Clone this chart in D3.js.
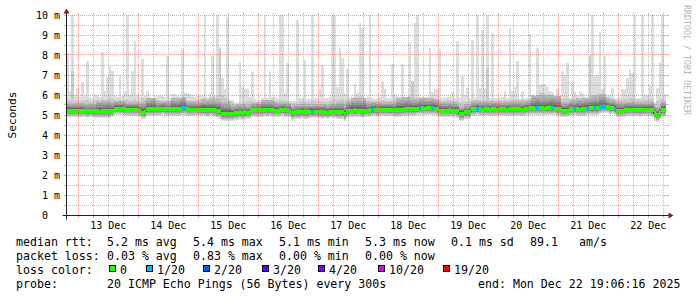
<!DOCTYPE html>
<html>
<head>
<meta charset="utf-8">
<title>smokeping</title>
<script src="https://cdn.jsdelivr.net/npm/d3@7/dist/d3.min.js"></script>
<style>
    body { margin: 0; background: #fff; }
    svg { display: block; }
    text { font-family: "DejaVu Sans Mono", monospace; }
</style>
</head>
<body>
<svg id="chart" width="697" height="297"></svg>
<script>
// 10 days, one bucket per hour (12 x 300s steps)
const startTime = new Date(Date.UTC(2025, 11, 12, 19, 6, 16))
const endTime = new Date(Date.UTC(2025, 11, 22, 19, 6, 16))

// median rtt per bucket (ms)
const rttMedian = [
    5.22, 5.2, 5.2, 5.21, 5.2, 5.2, 5.22, 5.2, 5.19, 5.2,
    5.2, 5.18, 5.18, 5.17, 5.18, 5.18, 5.2, 5.2, 5.22, 5.3,
    5.3, 5.31, 5.3, 5.28, 5.25, 5.25, 5.26, 5.25, 5.25, 5.22,
    5.12, 5.13, 5.28, 5.28, 5.3, 5.3, 5.28, 5.28, 5.3, 5.29,
    5.28, 5.28, 5.3, 5.29, 5.28, 5.3, 5.35, 5.35, 5.28, 5.27,
    5.26, 5.26, 5.27, 5.25, 5.26, 5.26, 5.25, 5.26, 5.26, 5.25,
    5.2, 5.18, 5.07, 5.05, 5.06, 5.05, 5.07, 5.08, 5.12, 5.13,
    5.12, 5.13, 5.12, 5.14, 5.23, 5.24, 5.25, 5.24, 5.24, 5.25,
    5.24, 5.25, 5.24, 5.2, 5.22, 5.24, 5.25, 5.24, 5.23, 5.22,
    5.08, 5.14, 5.15, 5.15, 5.16, 5.15, 5.14, 5.15, 5.15, 5.16,
    5.15, 5.15, 5.14, 5.15, 5.1, 5.15, 5.16, 5.15, 5.14, 5.15,
    5.14, 5.03, 5.2, 5.22, 5.22, 5.23, 5.22, 5.22, 5.21, 5.22,
    5.22, 5.23, 5.25, 5.25, 5.24, 5.25, 5.25, 5.26, 5.25, 5.25,
    5.25, 5.24, 5.25, 5.25, 5.26, 5.28, 5.28, 5.29, 5.28, 5.28,
    5.3, 5.33, 5.33, 5.32, 5.33, 5.33, 5.34, 5.32, 5.3, 5.22,
    5.22, 5.21, 5.22, 5.23, 5.22, 5.22, 5.2, 5.06, 5.05, 5.13,
    5.13, 5.14, 5.28, 5.28, 5.3, 5.28, 5.27, 5.28, 5.28, 5.27,
    5.28, 5.28, 5.27, 5.28, 5.28, 5.28, 5.27, 5.28, 5.29, 5.28,
    5.28, 5.28, 5.27, 5.28, 5.3, 5.33, 5.33, 5.32, 5.35, 5.33,
    5.33, 5.32, 5.33, 5.34, 5.35, 5.32, 5.3, 5.3, 5.2, 5.2,
    5.21, 5.28, 5.28, 5.3, 5.28, 5.27, 5.28, 5.3, 5.32, 5.33,
    5.33, 5.35, 5.33, 5.4, 5.42, 5.42, 5.4, 5.33, 5.35, 5.3,
    5.22, 5.2, 5.22, 5.24, 5.25, 5.25, 5.26, 5.25, 5.25, 5.24,
    5.25, 5.25, 5.26, 5.25, 5.25, 5.08, 5.0, 5.08, 5.25, 5.25
]

// slowest ping of 20 per bucket (ms)
const ping20 = [
    8.1, 6.2, 10, 6.0, 6.35, 5.9, 6.65, 5.95, 7.7, 5.9,
    5.85, 6.05, 6.0, 5.9, 8.15, 6.2, 6.9, 7.45, 7.2, 5.95,
    5.9, 7.0, 5.95, 6.2, 10, 6.0, 7.2, 8.7, 6.0, 5.9,
    7.8, 5.95, 6.2, 5.9, 5.85, 5.9, 5.95, 6.0, 5.95, 5.9,
    7.95, 5.9, 6.05, 6.05, 5.95, 5.9, 8.3, 6.1, 6.1, 6.05,
    6.0, 5.9, 5.95, 6.0, 5.95, 10, 5.9, 6.1, 7.95, 6.0,
    10, 8.4, 6.85, 6.3, 9.9, 5.75, 5.75, 5.6, 5.65, 7.65,
    6.4, 6.3, 6.3, 5.9, 7.15, 5.8, 5.7, 5.7, 5.85, 10,
    5.85, 7.2, 5.9, 5.9, 5.85, 10, 10, 6.1, 7.6, 5.7,
    5.7, 5.7, 9.75, 5.85, 5.85, 7.75, 5.8, 5.8, 10, 5.85,
    5.85, 6.3, 7.5, 5.85, 5.85, 5.9, 10, 10, 6.4, 8.35,
    7.85, 6.1, 7.3, 5.85, 5.9, 6.55, 6.1, 9.6, 9.35, 5.85,
    5.9, 10, 5.85, 5.8, 5.85, 5.9, 6.7, 6.3, 5.85, 5.85,
    7.55, 6.05, 5.95, 5.9, 7.55, 5.85, 5.85, 8.65, 6.7, 9.6,
    10, 5.9, 5.9, 5.9, 5.9, 8.35, 6.15, 6.3, 6.3, 8.3,
    5.85, 5.85, 5.9, 5.9, 6.15, 5.85, 8.7, 5.85, 6.95, 6.0,
    6.35, 5.85, 8.75, 5.9, 10, 6.35, 9.25, 6.3, 10, 5.85,
    9.1, 5.85, 5.85, 5.85, 5.9, 6.2, 5.85, 9.35, 6.2, 6.4,
    7.7, 5.8, 6.2, 5.85, 5.85, 9.05, 5.9, 5.9, 8.35, 6.5,
    6.55, 6.55, 6.4, 6.2, 6.15, 5.9, 6.3, 5.9, 7.2, 7.0,
    7.6, 5.85, 6.7, 6.15, 6.0, 6.2, 6.1, 5.9, 5.85, 8.0,
    10, 6.95, 7.0, 9.15, 6.3, 7.95, 6.0, 6.0, 6.35, 5.85,
    5.85, 5.9, 6.3, 6.3, 6.85, 7.25, 7.1, 10, 5.85, 5.85,
    10, 6.0, 6.0, 6.45, 10, 5.65, 6.35, 7.65, 10, 6.05
]

// second slowest ping per bucket (ms)
const ping19 = [
    5.75, 5.7, 7.2, 5.7, 5.75, 5.7, 5.75, 5.7, 5.8, 5.7,
    5.7, 5.75, 5.75, 5.7, 5.8, 5.75, 5.8, 5.85, 5.8, 5.75,
    5.7, 5.75, 5.7, 5.75, 5.8, 5.7, 5.75, 5.8, 5.7, 5.7,
    5.85, 5.8, 5.85, 5.8, 5.7, 5.7, 5.75, 5.7, 5.7, 5.7,
    5.75, 5.7, 5.8, 5.85, 5.85, 5.8, 5.9, 5.85, 5.75, 5.7,
    5.7, 5.7, 5.75, 5.75, 5.8, 5.85, 5.8, 5.85, 5.9, 5.85,
    5.95, 8.3, 6.0, 5.85, 5.85, 5.7, 5.65, 5.5, 5.55, 5.6,
    5.65, 5.65, 5.7, 5.7, 5.7, 5.65, 5.6, 5.6, 5.7, 5.75,
    5.7, 5.75, 5.75, 5.7, 5.7, 5.75, 5.75, 5.7, 5.7, 5.6,
    5.6, 5.6, 5.65, 5.7, 5.7, 5.7, 5.65, 5.65, 5.75, 5.7,
    5.7, 5.7, 5.7, 5.65, 5.65, 5.7, 5.75, 5.8, 5.75, 5.8,
    5.8, 5.75, 5.8, 5.75, 5.85, 5.9, 5.9, 5.95, 5.9, 5.8,
    5.75, 5.75, 5.7, 5.7, 5.7, 5.7, 5.75, 5.75, 5.7, 5.7,
    5.75, 5.8, 5.85, 5.85, 5.9, 5.85, 5.85, 5.9, 6.7, 5.9,
    5.9, 5.8, 5.8, 5.8, 5.75, 5.8, 5.85, 5.8, 5.75, 5.75,
    5.7, 5.7, 5.75, 5.75, 5.75, 5.7, 5.75, 5.65, 5.65, 5.65,
    5.7, 5.7, 5.75, 5.75, 5.75, 5.75, 5.75, 5.7, 7.35, 5.7,
    5.75, 5.7, 5.7, 5.7, 5.7, 5.75, 5.7, 5.75, 5.75, 5.75,
    5.8, 5.75, 5.8, 5.75, 5.75, 5.8, 5.9, 5.9, 6.0, 6.1,
    6.1, 6.05, 6.0, 5.95, 5.95, 5.85, 5.9, 5.8, 5.8, 5.8,
    5.85, 5.75, 5.8, 5.8, 5.75, 5.8, 5.85, 5.85, 5.8, 7.95,
    6.0, 6.0, 6.05, 6.1, 6.0, 6.05, 5.9, 5.85, 5.8, 5.75,
    5.75, 5.75, 5.8, 5.8, 5.8, 5.85, 5.85, 5.8, 5.75, 5.75,
    5.8, 5.75, 5.75, 5.8, 5.8, 5.55, 5.7, 5.75, 5.8, 5.75
]

// inner smoke, per 6 bucket block: ms above the median
const ping18Up = [.40, .38, .52, .42, .40, .55, .40, .55, .42, .52, .60, .42, .38, .50, .40, .38, .40, .42, .50, .62,
    .42, .40, .60, .52, .50, .42, .40, .40, .42, .40, .42, .65, .65, .45, .55, .62, .45, .42, .40, .42]
const ping17Up = [.31, .30, .41, .33, .31, .43, .31, .43, .33, .41, .47, .33, .30, .39, .31, .30, .31, .33, .39, .48,
    .33, .31, .47, .41, .39, .33, .31, .31, .33, .31, .33, .51, .51, .35, .43, .48, .35, .33, .31, .33]
const ping16Up = [.24, .23, .31, .25, .24, .33, .24, .33, .25, .31, .36, .25, .23, .30, .24, .23, .24, .25, .30, .37,
    .25, .24, .36, .31, .30, .25, .24, .24, .25, .24, .25, .39, .39, .27, .33, .37, .27, .25, .24, .25]
const ping15Up = [.18, .17, .23, .19, .18, .25, .18, .25, .19, .23, .27, .19, .17, .22, .18, .17, .18, .19, .22, .28,
    .19, .18, .27, .23, .22, .19, .18, .18, .19, .18, .19, .29, .29, .20, .25, .28, .20, .19, .18, .19]
const ping14Up = [.13, .12, .17, .13, .13, .18, .13, .18, .13, .17, .19, .13, .12, .16, .13, .12, .13, .13, .16, .20,
    .13, .13, .19, .17, .16, .13, .13, .13, .13, .13, .13, .21, .21, .14, .18, .20, .14, .13, .13, .13]

// ms below the median
const ping1Down = [.32, .32, .33, .32, .31, .33, .32, .33, .32, .33, .36, .36, .33, .32, .32, .33, .32, .32, .33, .34,
    .32, .32, .33, .32, .33, .32, .35, .32, .32, .32, .32, .33, .34, .32, .33, .34, .32, .32, .32, .36]
const ping2Down = [.27, .27, .28, .27, .26, .28, .27, .28, .27, .28, .30, .30, .28, .27, .27, .28, .27, .27, .28, .29,
    .27, .27, .28, .27, .28, .27, .30, .27, .27, .27, .27, .28, .29, .27, .28, .29, .27, .27, .27, .30]
const ping3Down = [.22, .22, .23, .22, .21, .23, .22, .23, .22, .23, .25, .25, .23, .22, .22, .23, .22, .22, .23, .24,
    .22, .22, .23, .22, .23, .22, .25, .22, .22, .22, .22, .23, .24, .22, .23, .24, .22, .22, .22, .25]
const ping4Down = [.17, .17, .18, .17, .16, .18, .17, .18, .17, .18, .20, .20, .18, .17, .17, .18, .17, .17, .18, .19,
    .17, .17, .18, .17, .18, .17, .20, .17, .17, .17, .17, .18, .19, .17, .18, .19, .17, .17, .17, .20]
const ping5Down = [.13, .13, .14, .13, .12, .14, .13, .14, .13, .14, .15, .15, .14, .13, .13, .14, .13, .13, .14, .14,
    .13, .13, .14, .13, .14, .13, .15, .13, .13, .13, .13, .14, .14, .13, .14, .14, .13, .13, .13, .15]
const ping6Down = [.10, .10, .10, .10, .09, .10, .10, .10, .10, .10, .11, .11, .10, .10, .10, .10, .10, .10, .10, .11,
    .10, .10, .10, .10, .10, .10, .11, .10, .10, .10, .10, .10, .11, .10, .10, .11, .10, .10, .10, .11]
const ping7Down = [.07, .07, .07, .07, .06, .07, .07, .07, .07, .07, .08, .08, .07, .07, .07, .07, .07, .07, .07, .08,
    .07, .07, .07, .07, .07, .07, .08, .07, .07, .07, .07, .07, .08, .07, .07, .08, .07, .07, .07, .08]

// buckets with packet loss
const lossBucket = [46, 47, 98, 122, 141, 146, 164, 188, 194, 203, 208, 211, 213, 214, 215, 219]
const lossPct = [0.42, 0.42, 0.42, 0.42, 0.42, 0.42, 0.42, 0.42, 0.42, 0.42, 0.42, 0.42, 0.83, 0.42, 0.42, 0.42]

const lossLabels = ["0", "1/20", "2/20", "3/20", "4/20", "10/20", "19/20"]
const lossColors = ["#26ff00", "#00b8ff", "#0059ff", "#5e00ff", "#7e00ff", "#dd00ff", "#ff0000"]
const lossUpper = [0, 1, 2, 3, 4, 10, 19]

const rttStats = ["5.2 ms avg", "5.4 ms max", "5.1 ms min", "5.3 ms now", "0.1 ms sd"]
const lossStats = ["0.03 % avg", "0.83 % max", "0.00 % min", "0.00 % now"]
const amValue = "89.1"
const amUnit = "am/s"
const probeText = "20 ICMP Echo Pings (56 Bytes) every 300s"
const endText = "end: Mon Dec 22 19:06:16 2025"

const ctx = {
    x0: 66, x1: 666, y0: 215, y1: 15,
    legendX: 16, colX: [107, 193, 279, 365, 451], amX: [530, 579],
    rowY: [245.5, 259.7, 273.8, 288],
    boxX: [109, 146, 203, 262, 318, 378, 443],
    endX: 478,
    grid: "rgba(143,143,143,0.6)",
    mgrid: "rgba(222,79,79,0.55)",
    axis: "#1f1f1f",
    arrow: "#801f1f"
}

const smokeColors = ["#dddddd", "#cacaca", "#b7b7b7", "#a4a4a4", "#919191", "#7e7e7e", "#6b6b6b"]

let svg = d3.select("#chart")
svg.append("rect").attr("width", 697).attr("height", 297).attr("fill", "#fff")

let x = d3.scaleUtc().domain([startTime, endTime]).range([ctx.x0, ctx.x1])
let y = d3.scaleLinear().domain([0, 10]).range([ctx.y0, ctx.y1])

const hourMs = 3600 * 1000
const bucketTime = i => new Date(startTime.getTime() + i * hourMs)
const block = i => Math.floor(i / 6)

function stepArea(lo, hi) {
    let n = lo.length
    let pts = lo.map((v, i) => [bucketTime(i), v, hi[i]])
    pts.push([bucketTime(n), lo[n - 1], hi[n - 1]])
    return d3.area()
        .curve(d3.curveStepAfter)
        .x(d => x(d[0]))
        .y0(d => y(d[1]))
        .y1(d => y(Math.min(d[2], 10)))(pts)
}

const around = (off, sign) => rttMedian.map((m, i) => m + sign * off[block(i)])

let smoke = [
    [around(ping1Down, -1), ping20],
    [around(ping2Down, -1), ping19],
    [around(ping3Down, -1), around(ping18Up, 1)],
    [around(ping4Down, -1), around(ping17Up, 1)],
    [around(ping5Down, -1), around(ping16Up, 1)],
    [around(ping6Down, -1), around(ping15Up, 1)],
    [around(ping7Down, -1), around(ping14Up, 1)]
]

let defs = svg.append("defs")
defs.append("clipPath").attr("id", "plotclip")
    .append("rect")
    .attr("x", ctx.x0).attr("y", ctx.y1 - 1)
    .attr("width", ctx.x1 - ctx.x0 + 1).attr("height", ctx.y0 - ctx.y1 + 1)

// 1 px on / 1 px off dot patterns for the grid
function dots(id, col, vertical) {
    let p = defs.append("pattern").attr("id", id)
        .attr("patternUnits", "userSpaceOnUse")
        .attr("width", vertical ? 1 : 2).attr("height", vertical ? 2 : 1)
    p.append("rect").attr("width", 1).attr("height", 1).attr("fill", col)
}
dots("gridV", ctx.grid, true)
dots("gridH", ctx.grid, false)
dots("mgridV", ctx.mgrid, true)
dots("mgridH", ctx.mgrid, false)

let plot = svg.append("g").attr("clip-path", "url(#plotclip)")

plot.selectAll("path.smoke")
    .data(smoke)
    .enter()
    .append("path")
    .attr("class", "smoke")
    .attr("d", d => stepArea(d[0], d[1]))
    .attr("fill", (d, i) => smokeColors[i])
    .attr("shape-rendering", "crispEdges")

/* median line under the loss colour band */
let medPts = rttMedian.map((v, i) => [bucketTime(i), v])
medPts.push([endTime, rttMedian[rttMedian.length - 1]])
plot.append("path")
    .attr("d", d3.line().curve(d3.curveStepAfter).x(d => x(d[0])).y(d => y(d[1]))(medPts))
    .attr("fill", "none")
    .attr("stroke", "#202020")
    .attr("stroke-width", 1)

function lossIndex(i) {
    let k = lossBucket.indexOf(i)
    if (k < 0) return 0
    let lost = lossPct[k] / 100 * 20
    return lossUpper.findIndex((u, j) => j > 0 && lost <= u)
}

plot.append("g")
    .selectAll("rect")
    .data(rttMedian)
    .enter()
    .append("rect")
    .attr("x", (d, i) => x(bucketTime(i)))
    .attr("width", (d, i) => x(bucketTime(i + 1)) - x(bucketTime(i)))
    .attr("y", d => y(d) - 2)
    .attr("height", 4)
    .attr("fill", (d, i) => lossColors[lossIndex(i)])
    .attr("shape-rendering", "crispEdges")

/* grid, drawn over the graph like rrdtool does */
let gridG = svg.append("g").attr("shape-rendering", "crispEdges")

d3.range(0.5, 10.01, 0.5).forEach(v => {
    let yy = Math.floor(y(v))
    let major = Number.isInteger(v)
    let col = major ? ctx.mgrid : ctx.grid
    gridG.append("rect").attr("x", ctx.x0 + 1).attr("y", yy).attr("width", ctx.x1 - ctx.x0).attr("height", 1)
        .attr("fill", major ? "url(#mgridH)" : "url(#gridH)")
    gridG.append("rect").attr("x", ctx.x0 - 2).attr("y", yy).attr("width", 2).attr("height", 1).attr("fill", col)
    gridG.append("rect").attr("x", ctx.x1 + 1).attr("y", yy).attr("width", 2).attr("height", 1).attr("fill", col)
})

d3.utcHour.every(6).range(startTime, endTime).forEach(t => {
    let xx = Math.floor(x(t))
    let major = t.getUTCHours() === 0
    let col = major ? ctx.mgrid : ctx.grid
    gridG.append("rect").attr("x", xx).attr("y", ctx.y1).attr("width", 1).attr("height", ctx.y0 - ctx.y1)
        .attr("fill", major ? "url(#mgridV)" : "url(#gridV)")
    gridG.append("rect").attr("x", xx).attr("y", ctx.y1 - 2).attr("width", 1).attr("height", 2).attr("fill", col)
    gridG.append("rect").attr("x", xx).attr("y", ctx.y0 + 1).attr("width", 1).attr("height", 2).attr("fill", col)
})

/* axes + arrows */
let axX = ctx.x0 + 0.5, axY = ctx.y0 + 0.5, axTop = ctx.y1 + 0.5, axRight = ctx.x1 + 0.5
svg.append("line").attr("x1", axX - 4).attr("x2", axRight + 4).attr("y1", axY).attr("y2", axY)
    .attr("stroke", ctx.axis)
svg.append("line").attr("x1", axX).attr("x2", axX).attr("y1", axY + 4).attr("y2", axTop - 4)
    .attr("stroke", ctx.axis)
svg.append("path")
    .attr("d", `M${axRight + 2},${axY - 3}L${axRight + 2},${axY + 3}L${axRight + 7},${axY}Z`)
    .attr("fill", ctx.arrow)
svg.append("path")
    .attr("d", `M${axX - 3},${axTop - 2}L${axX + 3},${axTop - 2}L${axX},${axTop - 7}Z`)
    .attr("fill", ctx.arrow)

/* y labels */
svg.append("g")
    .selectAll("text")
    .data(d3.range(0, 11))
    .enter()
    .append("text")
    .attr("x", 60)
    .attr("y", d => y(d) + 4)
    .attr("text-anchor", "end")
    .attr("font-size", 10)
    .style("white-space", "pre")
    .text(d => d === 0 ? "0  " : d + " m")

/* x labels at noon */
svg.append("g")
    .selectAll("text")
    .data(d3.utcDay.range(d3.utcDay.ceil(startTime), endTime))
    .enter()
    .append("text")
    .attr("x", d => x(d3.utcHour.offset(d, 12)))
    .attr("y", 229)
    .attr("text-anchor", "middle")
    .attr("font-size", 10)
    .text(d3.utcFormat("%d %b"))

svg.append("text")
    .attr("transform", "translate(15.5,115) rotate(-90)")
    .attr("text-anchor", "middle")
    .attr("font-size", 11.2)
    .text("Seconds")

svg.append("text")
    .attr("transform", "translate(684,5) rotate(90)")
    .attr("font-size", 8.3)
    .attr("fill", "#b4b4b4")
    .text("RRDTOOL / TOBI OETIKER")

/* legend */
let leg = svg.append("g").attr("font-size", 11.6).attr("fill", "#000")
const put = (tx, xx, yy) => leg.append("text").attr("x", xx).attr("y", yy).text(tx)

put("median rtt:", ctx.legendX, ctx.rowY[0])
rttStats.forEach((s, i) => put(s, ctx.colX[i], ctx.rowY[0]))
put(amValue, ctx.amX[0], ctx.rowY[0])
put(amUnit, ctx.amX[1], ctx.rowY[0])

put("packet loss:", ctx.legendX, ctx.rowY[1])
lossStats.forEach((s, i) => put(s, ctx.colX[i], ctx.rowY[1]))

put("loss color:", ctx.legendX, ctx.rowY[2])
lossLabels.forEach((s, i) => {
    leg.append("rect")
        .attr("x", ctx.boxX[i] + 0.5).attr("y", ctx.rowY[2] - 8.3)
        .attr("width", 6).attr("height", 6)
        .attr("fill", lossColors[i]).attr("stroke", "#000")
        .attr("shape-rendering", "crispEdges")
    put(s, ctx.boxX[i] + 11, ctx.rowY[2])
})

put("probe:", ctx.legendX, ctx.rowY[3])
put(probeText, ctx.colX[0], ctx.rowY[3])
put(endText, ctx.endX, ctx.rowY[3])
</script>
</body>
</html>
